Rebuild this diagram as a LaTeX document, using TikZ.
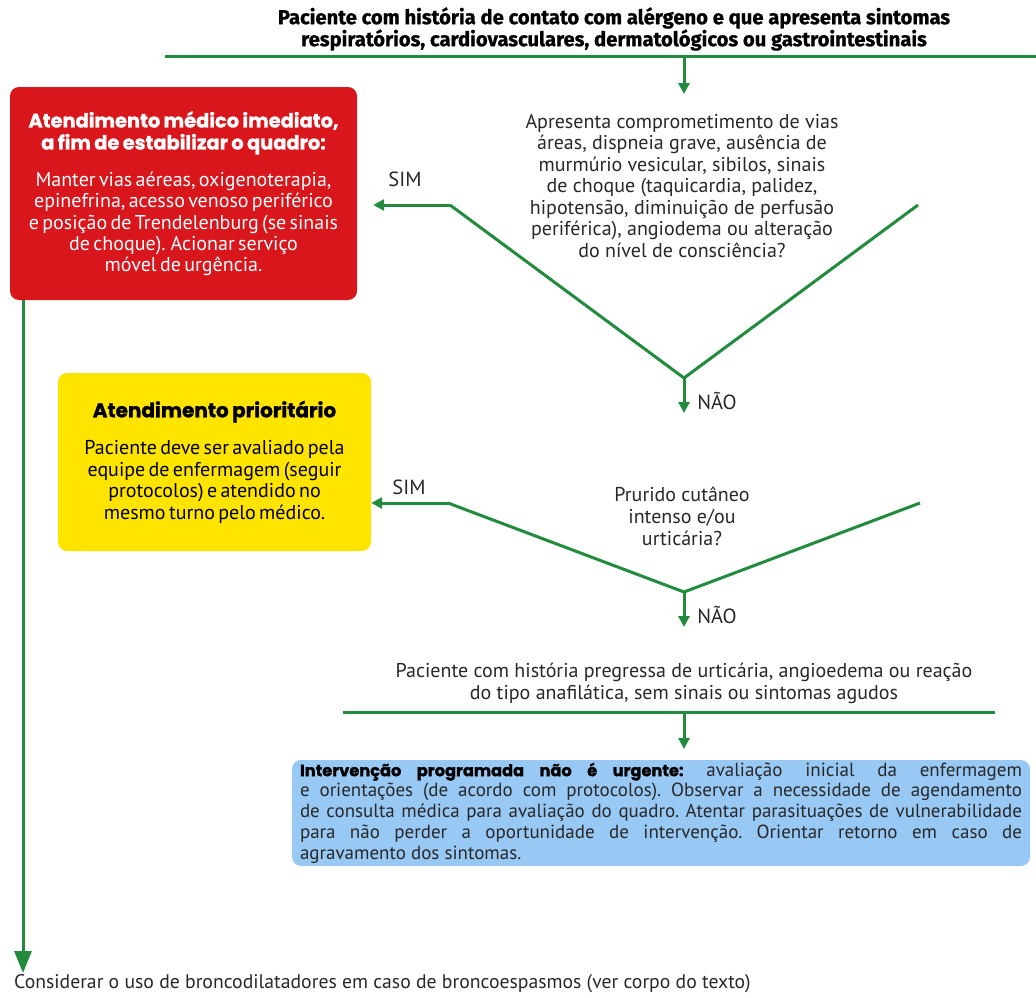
\documentclass[tikz,border=0pt]{standalone}
\usepackage{fontspec}
\setmainfont{PT Sans}
\newfontfamily\heavy{Poppins}[BoldFeatures={FakeBold=1.2}]
\newfontfamily\headfont{Fira Sans}[BoldFeatures={FakeBold=0.8}]
\usetikzlibrary{arrows.meta}
\definecolor{flowgreen}{RGB}{34,139,62}
\definecolor{urgred}{RGB}{216,22,28}
\definecolor{prioyellow}{RGB}{255,228,0}
\definecolor{planblue}{RGB}{152,200,244}
\definecolor{ink}{RGB}{40,40,40}
\tikzset{
  flow/.style={draw=flowgreen, line width=3pt},
  flowarrow/.style={flow, -{Triangle[length=11pt,width=11pt]}},
  bigarrow/.style={flow, -{Triangle[length=22pt,width=17pt]}},
  txt/.style={text=ink, inner sep=0pt, font=\fontsize{20}{21.5}\selectfont},
  card/.style={rounded corners=9pt, inner sep=1pt, align=center},
  lbl/.style={text=ink, inner sep=0pt, font=\fontsize{20.5}{22}\selectfont}
}
\begin{document}
\begin{tikzpicture}[x=1pt,y=-1pt]
\useasboundingbox (0,0) rectangle (1036,998);
\fill[white] (0,0) rectangle (1036,998);

% heading
\node[inner sep=0pt, align=center, text=black,
      font=\headfont\bfseries\fontsize{20.2}{22}\selectfont] (head) at (614,29)
  {Paciente com história de contato com alérgeno e que apresenta sintomas\\
   respiratórios, cardiovasculares, dermatológicos ou gastrointestinais};

\coordinate (topL) at (165,57);
\coordinate (topR) at (1036,57);
\coordinate (topJ) at (684,57);
\coordinate (topE) at (684,94);
\draw[flow] (topL) -- (topR);
\draw[flowarrow] (topJ) -- (topE);

% red box: immediate care
\node[card, fill=urgred, text=white, minimum width=347pt, minimum height=213pt,
      text width=345pt] (red) at (183.5,193.5)
  {{\heavy\bfseries\fontsize{19.4}{22}\selectfont Atendimento médico imediato,\\
    a fim de estabilizar o quadro:\par}\vspace{16pt}
   {\fontsize{20}{21.2}\selectfont Manter vias aéreas, oxigenoterapia,\\
    epinefrina, acesso venoso periférico\\
    e posição de Trendelenburg (se sinais\\
    de choque). Acionar serviço\\
    móvel de urgência.\par}};

% first question
\node[txt, align=center] (q1) at (682,186)
  {Apresenta comprometimento de vias\\
   áreas, dispneia grave, ausência de\\
   murmúrio vesicular, sibilos, sinais\\
   de choque (taquicardia, palidez,\\
   hipotensão, diminuição de perfusão\\
   periférica), angiodema ou alteração\\
   do nível de consciência?};

\coordinate (v1L) at (450,205);
\coordinate (v1B) at (684,378);
\coordinate (v1R) at (918,205);
\coordinate (v1E) at (684,413);
\draw[flow, line join=miter] (v1R) -- (v1B) -- (v1L);
\draw[flowarrow, shorten >=16pt] (v1L) -- (red.east |- v1L);
\draw[flowarrow] (v1B) -- (v1E);
\node[lbl] (sim1) at (405,179) {SIM};
\node[lbl] (nao1) at (717,401) {NÃO};

% yellow box: priority care
\node[card, fill=prioyellow, text=black, minimum width=313pt, minimum height=178pt,
      text width=311pt] (yellow) at (214.5,462)
  {{\heavy\bfseries\fontsize{20}{22}\selectfont Atendimento prioritário\par}\vspace{16pt}
   {\fontsize{20}{21.5}\selectfont Paciente deve ser avaliado pela\\
    equipe de enfermagem (seguir\\
    protocolos) e atendido no\\
    mesmo turno pelo médico.\par}};

% second question
\node[txt, align=center, font=\fontsize{20}{22}\selectfont] (q2) at (682,516)
  {Prurido cutâneo\\ intenso e/ou\\ urticária?};

\coordinate (v2L) at (448,503);
\coordinate (v2B) at (684,592);
\coordinate (v2R) at (920,503);
\coordinate (v2E) at (684,627);
\draw[flow, line join=miter] (v2R) -- (v2B) -- (v2L);
\draw[flowarrow] (v2L) -- (yellow.east |- v2L);
\draw[flowarrow] (v2B) -- (v2E);
\node[lbl] (sim2) at (409,487) {SIM};
\node[lbl] (nao2) at (717,615) {NÃO};

% past history
\node[txt, align=center, font=\fontsize{20}{22}\selectfont] (hist) at (684,683)
  {Paciente com história pregressa de urticária, angioedema ou reação\\
   do tipo anafilática, sem sinais ou sintomas agudos};

\coordinate (midL) at (343,712);
\coordinate (midR) at (995,712);
\coordinate (midJ) at (684,712);
\coordinate (midE) at (684,749);
\draw[flow] (midL) -- (midR);
\draw[flowarrow] (midJ) -- (midE);

% blue box: scheduled intervention
\node[rounded corners=9pt, fill=planblue, text=ink, minimum width=738pt,
      minimum height=106pt, inner sep=0pt, text width=722pt, align=justify,
      font=\frenchspacing\fontsize{19}{20.8}\selectfont] (blue) at (661,813)
  {{\heavy\bfseries\fontsize{16.2}{20.8}\selectfont\color{black}Intervenção programada não é urgente:} avaliação inicial da enfermagem\linebreak
   e orientações (de acordo com protocolos). Observar a necessidade de agendamento\linebreak
   de consulta médica para avaliação do quadro. Atentar parasituações de vulnerabilidade\linebreak
   para não perder a oportunidade de intervenção. Orientar retorno em caso de\linebreak
   agravamento dos sintomas.};

% left trunk and closing note
\coordinate (trunkE) at (23,973);
\draw[bigarrow] (red.south -| trunkE) -- (trunkE);
\node[txt, anchor=west, font=\fontsize{19.7}{21.5}\selectfont] (note) at (14,984)
  {Considerar o uso de broncodilatadores em caso de broncoespasmos (ver corpo do texto)};
\end{tikzpicture}
\end{document}
